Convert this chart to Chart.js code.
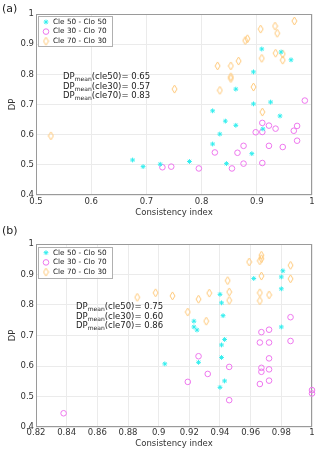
<!DOCTYPE html>
<html>
<head>
<meta charset="utf-8">
<script src="https://cdn.jsdelivr.net/npm/chart.js@4.4.1/dist/chart.umd.min.js"></script>
<style>
  html, body { margin: 0; padding: 0; background: #fff; }
  body { width: 320px; height: 453px; position: relative; overflow: hidden; font-family: "DejaVu Sans", sans-serif; }
  .panel { position: absolute; left: 0; width: 320px; }
  .tag { position: absolute; left: 2px; font-size: 11px; color: #222; }
  .note { position: absolute; font-size: 8.5px; line-height: 9.6px; color: #222; white-space: nowrap; }
  .note sub { font-size: 6px; vertical-align: -2px; line-height: 0; }
</style>
</head>
<body>
<div class="panel" style="top:0;height:226px"><canvas id="chartA"></canvas></div>
<div class="panel" style="top:226px;height:227px"><canvas id="chartB"></canvas></div>
<div class="tag" style="top:2px">(a)</div>
<div class="tag" style="top:224px">(b)</div>
<div class="note" id="noteA" style="left:63px;top:72px"></div>
<div class="note" id="noteB" style="left:76px;top:302px"></div>

<script>
// series names
const seriesLabels = ['Cle 50 - Clo 50', 'Cle 30 - Clo 70', 'Cle 70 - Clo 30'];
const seriesKeys = ['cle50', 'cle30', 'cle70'];

// panel (a) values
const cle50A_x = [0.909, 0.944, 0.962, 0.894, 0.862, 0.894, 0.925, 0.675, 0.694, 0.725, 0.778, 0.820, 0.843, 0.862, 0.833, 0.820, 0.845, 0.891, 0.942, 0.911];
const cle50A_y = [0.884, 0.874, 0.848, 0.808, 0.751, 0.702, 0.708, 0.516, 0.494, 0.502, 0.511, 0.679, 0.645, 0.631, 0.602, 0.569, 0.504, 0.537, 0.662, 0.619];
const cle30A_x = [0.729, 0.745, 0.795, 0.824, 0.855, 0.865, 0.876, 0.876, 0.898, 0.910, 0.910, 0.910, 0.922, 0.922, 0.934, 0.947, 0.967, 0.973, 0.973, 0.987];
const cle30A_y = [0.492, 0.494, 0.488, 0.541, 0.488, 0.540, 0.563, 0.504, 0.608, 0.639, 0.609, 0.506, 0.630, 0.563, 0.620, 0.559, 0.613, 0.629, 0.580, 0.713];
const cle70A_x = [0.968, 0.933, 0.937, 0.907, 0.883, 0.879, 0.829, 0.853, 0.867, 0.853, 0.853, 0.833, 0.894, 0.909, 0.934, 0.947, 0.947, 0.751, 0.910, 0.527];
const cle70A_y = [0.977, 0.960, 0.936, 0.950, 0.918, 0.912, 0.828, 0.828, 0.844, 0.792, 0.786, 0.747, 0.758, 0.853, 0.870, 0.868, 0.847, 0.751, 0.675, 0.596];
const meansA = [0.65, 0.57, 0.83];

// panel (b) values
const cle50B_x = [0.940, 0.941, 0.942, 0.923, 0.923, 0.925, 0.962, 0.981, 0.980, 0.980, 0.980, 0.943, 0.941, 0.941, 0.926, 0.904, 0.943, 0.940];
const cle50B_y = [0.835, 0.807, 0.765, 0.747, 0.728, 0.718, 0.887, 0.912, 0.892, 0.853, 0.728, 0.687, 0.669, 0.628, 0.612, 0.607, 0.551, 0.530];
const cle30B_x = [0.838, 0.986, 0.967, 0.972, 0.966, 0.972, 0.986, 0.926, 0.972, 0.946, 0.967, 0.967, 0.972, 0.932, 0.919, 0.966, 0.972, 0.946, 1.0, 1.0];
const cle30B_y = [0.445, 0.760, 0.711, 0.719, 0.677, 0.677, 0.682, 0.632, 0.625, 0.597, 0.594, 0.581, 0.589, 0.574, 0.548, 0.541, 0.552, 0.488, 0.521, 0.510];
const cle70B_x = [0.886, 0.898, 0.909, 0.919, 0.926, 0.933, 0.931, 0.945, 0.946, 0.946, 0.959, 0.966, 0.967, 0.967, 0.967, 0.966, 0.966, 0.972, 0.986, 0.986];
const cle70B_y = [0.825, 0.840, 0.830, 0.777, 0.819, 0.839, 0.747, 0.880, 0.843, 0.815, 0.941, 0.945, 0.963, 0.952, 0.895, 0.840, 0.814, 0.833, 0.930, 0.886];
const meansB = [0.75, 0.60, 0.86];

// ticks
const xTicksA = [0.5, 0.6, 0.7, 0.8, 0.9, 1];
const xLabelsA = ['0.5', '0.6', '0.7', '0.8', '0.9', '1'];
const xTicksB = [0.82, 0.84, 0.86, 0.88, 0.9, 0.92, 0.94, 0.96, 0.98, 1];
const xLabelsB = ['0.82', '0.84', '0.86', '0.88', '0.9', '0.92', '0.94', '0.96', '0.98', '1'];
const yTicks = [0.4, 0.5, 0.6, 0.7, 0.8, 0.9, 1];
const yLabels = ['0.4', '0.5', '0.6', '0.7', '0.8', '0.9', '1'];

Chart.defaults.font.family = "'DejaVu Sans', sans-serif";
Chart.defaults.font.size = 8.5;
Chart.defaults.color = '#333';

const cyan = '#33eeee', magenta = '#ee77ee', orange = '#ffc877';

function diamondImage(color) {
  const c = document.createElement('canvas');
  c.width = 7; c.height = 10;
  const g = c.getContext('2d');
  g.strokeStyle = color; g.lineWidth = 1;
  g.beginPath();
  g.moveTo(3.5, 1); g.lineTo(6, 5); g.lineTo(3.5, 9); g.lineTo(1, 5);
  g.closePath(); g.stroke();
  return c;
}
const diamond = diamondImage(orange);

function pts(xs, ys) {
  return xs.map((x, i) => ({ x: x, y: ys[i] }));
}

// box around the axes + legend box in the upper left
const boxLegend = {
  id: 'boxLegend',
  beforeDatasetsDraw(chart) {
    const { ctx, chartArea: a } = chart;
    ctx.save();
    ctx.strokeStyle = '#9a9a9a';
    ctx.lineWidth = 1;
    ctx.strokeRect(Math.round(a.left) + 0.5, Math.round(a.top) + 0.5,
      Math.round(a.right - a.left) - 1, Math.round(a.bottom - a.top) - 1);
    ctx.restore();
  },
  afterDraw(chart, args, opts) {
    const { ctx, chartArea: a } = chart;
    const bx = a.left + opts.dx, by = a.top + opts.dy;
    ctx.save();
    ctx.fillStyle = '#fff';
    ctx.fillRect(bx, by, opts.w, opts.h);
    ctx.strokeStyle = '#b0b0b0';
    ctx.lineWidth = 1;
    ctx.strokeRect(Math.round(bx) + 0.5, Math.round(by) + 0.5, opts.w, opts.h);
    ctx.font = "7.3px 'DejaVu Sans', sans-serif";
    ctx.textBaseline = 'middle';
    chart.data.datasets.forEach((ds, i) => {
      const y = by + opts.row0 + i * opts.gap;
      ctx.strokeStyle = ds.borderColor;
      ctx.fillStyle = ds.backgroundColor;
      ctx.lineWidth = ds.borderWidth;
      Chart.helpers.drawPoint(ctx, { pointStyle: ds.pointStyle, radius: ds.pointRadius, rotation: 0, borderWidth: ds.borderWidth }, bx + 8, y);
      ctx.fillStyle = '#222';
      ctx.fillText(ds.label, bx + 15, y);
    });
    ctx.restore();
  }
};

function makeChart(id, series, xTicks, xLabels, cfg) {
  const ctx = document.getElementById(id).getContext('2d');
  return new Chart(ctx, {
    type: 'scatter',
    data: {
      datasets: [
        { label: seriesLabels[0], data: series[0], pointStyle: 'star', pointRadius: 2.4, borderColor: cyan, backgroundColor: cyan, borderWidth: 1, clip: false },
        { label: seriesLabels[1], data: series[1], pointStyle: 'circle', pointRadius: 2.8, borderColor: magenta, backgroundColor: 'rgba(0,0,0,0)', borderWidth: 1, clip: false },
        { label: seriesLabels[2], data: series[2], pointStyle: diamond, pointRadius: 4, borderColor: orange, backgroundColor: 'rgba(0,0,0,0)', borderWidth: 1, clip: false }
      ]
    },
    options: {
      responsive: true,
      maintainAspectRatio: false,
      animation: false,
      events: [],
      layout: { padding: { top: cfg.top, right: 8, left: 0, bottom: 0 } },
      plugins: {
        legend: { display: false },
        tooltip: { enabled: false },
        boxLegend: cfg.legend
      },
      scales: {
        x: {
          type: 'linear',
          min: xTicks[0],
          max: xTicks[xTicks.length - 1],
          afterBuildTicks: s => { s.ticks = xTicks.map(v => ({ value: v })); },
          afterFit: s => { s.height = cfg.xAxisH; },
          ticks: { padding: cfg.tickPad, maxRotation: 0, autoSkip: false, callback: (v, i) => xLabels[i] },
          grid: { color: '#ebebeb', drawTicks: false },
          border: { display: false },
          title: { display: true, text: 'Consistency index', color: '#333', padding: { top: 0, bottom: cfg.titlePad } }
        },
        y: {
          type: 'linear',
          min: yTicks[0],
          max: yTicks[yTicks.length - 1],
          afterBuildTicks: s => { s.ticks = yTicks.map(v => ({ value: v })); },
          afterFit: s => { s.width = 36; },
          ticks: { padding: 2, autoSkip: false, callback: (v, i) => yLabels[i] },
          grid: { color: '#ebebeb', drawTicks: false },
          border: { display: false },
          title: { display: true, text: 'DP', color: '#333', padding: { top: 8, bottom: 0 } }
        }
      }
    },
    plugins: [boxLegend]
  });
}

makeChart('chartA',
  [pts(cle50A_x, cle50A_y), pts(cle30A_x, cle30A_y), pts(cle70A_x, cle70A_y)],
  xTicksA, xLabelsA,
  { top: 14, xAxisH: 31, tickPad: 2, titlePad: 8, legend: { dx: 2, dy: 2, w: 74, h: 30, row0: 6, gap: 9.6 } });

makeChart('chartB',
  [pts(cle50B_x, cle50B_y), pts(cle30B_x, cle30B_y), pts(cle70B_x, cle70B_y)],
  xTicksB, xLabelsB,
  { top: 18, xAxisH: 26, tickPad: 1, titlePad: 4, legend: { dx: 2, dy: 2.7, w: 74, h: 31, row0: 6, gap: 9.7 } });

function writeNote(id, means) {
  document.getElementById(id).innerHTML = seriesKeys.map((k, i) =>
    'DP<sub>mean</sub>(' + k + ')= ' + means[i].toFixed(2)).join('<br>');
}
writeNote('noteA', meansA);
writeNote('noteB', meansB);
</script>
</body>
</html>
